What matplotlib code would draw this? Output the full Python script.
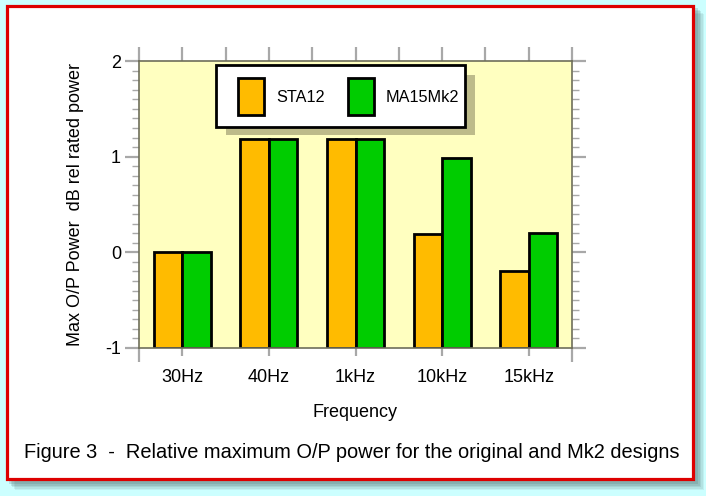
import numpy as np
import matplotlib
matplotlib.use("Agg")
import matplotlib.pyplot as plt
from matplotlib.patches import Rectangle
from matplotlib.ticker import MultipleLocator, FixedLocator

plt.rcParams['font.family'] = ['Liberation Sans', 'DejaVu Sans']

categories = ["30Hz", "40Hz", "1kHz", "10kHz", "15kHz"]
sta12 = [0.0, 1.18, 1.18, 0.19, -0.2]
ma15mk2 = [0.0, 1.18, 1.18, 0.99, 0.2]
series_names = ["STA12", "MA15Mk2"]
colors = ["#FFBB00", "#00CC00"]
y_ticks = [-1, 0, 1, 2]
baseline = -1

W, H = 706, 496
fig = plt.figure(figsize=(W / 100, H / 100), dpi=100)
fig.patch.set_facecolor("#CCFFFF")

def px(x0, y0, x1, y1):
    # figure pixel box (top-left origin) -> figure fraction rectangle
    return (x0 / W, 1 - y1 / H, (x1 - x0) / W, (y1 - y0) / H)

# soft shadow of the frame
for i, a in enumerate([0.10, 0.12, 0.15, 0.18, 0.22]):
    d = 10 - i * 1.5
    x, y, w, h = px(5 + d, 4 + d, 694 + d, 480 + d)
    fig.patches.append(Rectangle((x, y), w, h, transform=fig.transFigure,
                                 facecolor="#557777", alpha=a, edgecolor="none", zorder=-3))
x, y, w, h = px(6.5, 5.5, 692.5, 478.5)
fig.patches.append(Rectangle((x, y), w, h, transform=fig.transFigure,
                             facecolor="white", edgecolor="#DD0000", linewidth=2.3, zorder=-2))

ax = fig.add_axes(px(139, 61, 572, 348))
ax.set_facecolor("#FFFFC0")
xpos = np.arange(len(categories))
bw = 0.33
ax.bar(xpos - bw / 2, np.array(sta12) - baseline, bw, bottom=baseline, color=colors[0],
       edgecolor="black", linewidth=2, zorder=2)
ax.bar(xpos + bw / 2, np.array(ma15mk2) - baseline, bw, bottom=baseline, color=colors[1],
       edgecolor="black", linewidth=2, zorder=2)
ax.set_xlim(-0.5, len(categories) - 0.5)
ax.set_ylim(-1, 2)

spine_c = "#6E6E5A"
tick_c = "#A8A8A8"
for s in ax.spines.values():
    s.set_color(spine_c)
    s.set_linewidth(1.2)

ax.set_yticks(y_ticks)
ax.set_yticklabels([str(v) for v in y_ticks])
ax.yaxis.set_minor_locator(MultipleLocator(0.1))
ax.tick_params(axis="y", which="major", direction="out", length=10, width=1.6, color=tick_c,
               left=True, right=True, labelsize=13, pad=3)
ax.tick_params(axis="y", which="minor", direction="out", length=5, width=1.0, color=tick_c,
               left=True, right=True)

ax.set_xticks(xpos)
ax.set_xticklabels(categories)
ax.xaxis.set_minor_locator(FixedLocator([-0.5, len(categories) - 0.5]))
ax.tick_params(axis="x", which="major", direction="out", length=6, width=1.6, color=tick_c,
               labelsize=13, pad=9, top=False)
ax.tick_params(axis="x", which="minor", direction="out", length=10, width=1.6, color=tick_c,
               top=False)

top = ax.secondary_xaxis("top")
top.set_xticks(np.arange(-0.5, len(categories), 0.5))
top.set_xticklabels([])
top.tick_params(axis="x", direction="out", length=10, width=1.6, color=tick_c)
top.spines["top"].set_visible(False)

ax.set_xlabel("Frequency", fontsize=13, labelpad=13)
ax.set_ylabel("Max O/P Power  dB rel rated power", fontsize=13, labelpad=15)

# legend box with offset shadow
lx0, ly0, lx1, ly1 = 216, 65, 465, 127
x, y, w, h = px(lx0 + 10, ly0 + 10, lx1 + 10, ly1 + 8)
ax.add_patch(Rectangle((x, y), w, h, transform=fig.transFigure, facecolor="#BDBB8A",
                       edgecolor="none", zorder=4, clip_on=False))
x, y, w, h = px(lx0, ly0, lx1, ly1)
ax.add_patch(Rectangle((x, y), w, h, transform=fig.transFigure, facecolor="white",
                       edgecolor="black", linewidth=2, zorder=5, clip_on=False))
for i, (name, c) in enumerate(zip(series_names, colors)):
    sx = 238 + i * 110
    x, y, w, h = px(sx, 78, sx + 26, 115)
    ax.add_patch(Rectangle((x, y), w, h, transform=fig.transFigure, facecolor=c,
                           edgecolor="black", linewidth=2, zorder=6, clip_on=False))
    fig.text((sx + 38) / W, 1 - 97 / H, name, fontsize=11.7, va="center", ha="left", zorder=7)

fig.text(352 / W, 1 - 452 / H, "Figure 3  -  Relative maximum O/P power for the original and Mk2 designs",
         fontsize=14.4, ha="center", va="center")

fig.savefig("out.png", dpi=100, facecolor=fig.get_facecolor())
